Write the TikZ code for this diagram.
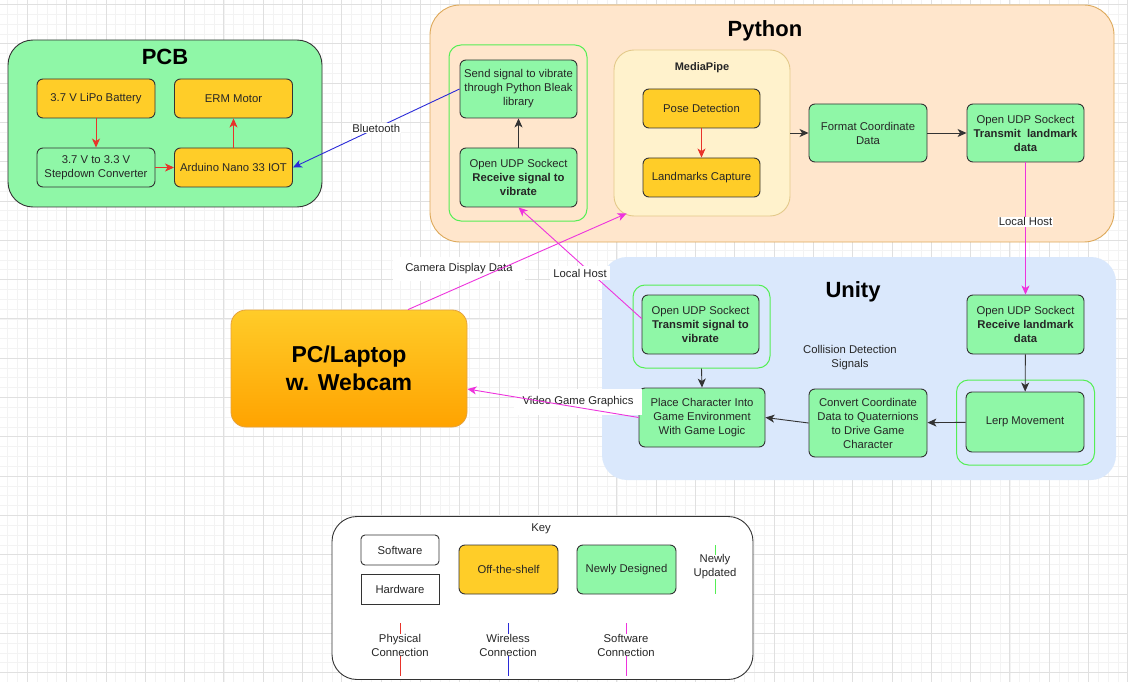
\documentclass[tikz,border=0pt]{standalone}
\usepackage{fontspec}
\setmainfont{Liberation Sans}
\usetikzlibrary{arrows.meta, calc, positioning}

\definecolor{newgreen}{HTML}{8FF7A7}
\definecolor{offshelf}{HTML}{FFCD28}
\definecolor{peach}{HTML}{FFE6CC}
\definecolor{peachline}{HTML}{DDA95A}
\definecolor{pipefill}{HTML}{FFF2CC}
\definecolor{pipeline}{HTML}{E3C98A}
\definecolor{unityblue}{HTML}{DAE8FC}
\definecolor{updgreen}{HTML}{55EE55}
\definecolor{boxline}{HTML}{333333}
\definecolor{physred}{HTML}{E8332A}
\definecolor{wlblue}{HTML}{2A2AD8}
\definecolor{softpink}{HTML}{EE33DD}
\definecolor{gridminor}{HTML}{F3F3F3}
\definecolor{gridmajor}{HTML}{E0E0E0}
\definecolor{pctop}{HTML}{FFCC29}
\definecolor{pcbot}{HTML}{FFA300}
\definecolor{pcline}{HTML}{E6A23C}

\begin{document}
\begin{tikzpicture}[
    x=1pt, y=-1pt,
    >={Stealth[length=9pt,width=8pt,inset=2.5pt]},
    txt/.style={font=\fontsize{11.3}{14}\selectfont, align=center, text=black!85},
    block/.style={txt, draw=boxline, line width=0.9pt, rounded corners=6pt, inner sep=2pt},
    newbox/.style={block, fill=newgreen, minimum width=118pt, minimum height=59pt},
    shelfbox/.style={block, fill=offshelf, minimum width=118pt, minimum height=39pt},
    group/.style={draw=updgreen, line width=1pt, rounded corners=12pt},
    container/.style={rounded corners=25pt, line width=0.9pt},
    title/.style={font=\fontsize{22}{26}\bfseries\selectfont},
    lbl/.style={txt, fill=white, inner sep=1pt},
    flow/.style={->, line width=0.9pt, draw=boxline},
    phys/.style={->, line width=0.9pt, draw=physred},
    wless/.style={->, line width=0.9pt, draw=wlblue},
    soft/.style={->, line width=0.9pt, draw=softpink}
]
\useasboundingbox (0,0) rectangle (1128,682);

% background grid
\begin{scope}
\clip (0,0) rectangle (1128,682);
\fill[white] (0,0) rectangle (1128,682);
\foreach \i in {0,...,116} \draw[gridminor, line width=0.6pt] ({-12+\i*9.825},0) -- ++(0,682);
\foreach \i in {0,...,70} \draw[gridminor, line width=0.6pt] (0,{-5.4+\i*9.825}) -- ++(1128,0);
\foreach \i in {0,...,29} \draw[gridmajor, line width=0.7pt] ({-12+\i*39.3},0) -- ++(0,682);
\foreach \i in {0,...,17} \draw[gridmajor, line width=0.7pt] (0,{4.4+\i*39.3}) -- ++(1128,0);
\end{scope}

% PCB
\node[container, fill=newgreen, draw=boxline, minimum width=314pt, minimum height=167pt] (pcb) at (165,123.5) {};
\node[title] (pcbtitle) at (165,57) {PCB};
\node[shelfbox] (bat) at (96,98.5) {3.7 V LiPo Battery};
\node[shelfbox] (erm) at (233.5,98.5) {ERM Motor};
\node[newbox, minimum height=39pt] (step) at (96,167.5) {3.7 V to 3.3 V\\Stepdown Converter};
\node[shelfbox] (ard) at (233.5,167.5) {Arduino Nano 33 IOT};

% Python
\node[container, rounded corners=30pt, fill=peach, draw=peachline, minimum width=684pt, minimum height=237pt] (py) at (772,123.5) {};
\node[title] (pytitle) at (765,31) {Python};
\node[group, minimum width=138pt, minimum height=176pt] (bgrp) at (518,133) {};
\node[newbox, minimum width=117pt, minimum height=58pt] (bleak) at (518.5,89) {Send signal to vibrate\\through Python Bleak\\library};
\node[newbox, minimum width=117pt] (recv) at (518.5,177.5) {Open UDP Sockect\\\textbf{Receive signal to}\\\textbf{vibrate}};
\node[container, rounded corners=20pt, fill=pipefill, draw=pipeline, minimum width=176pt, minimum height=166pt] (mp) at (702,133) {};
\node[txt, font=\fontsize{11}{13}\bfseries\selectfont] (mptitle) at (702,68) {MediaPipe};
\node[shelfbox, minimum width=117pt] (pose) at (701.5,108.5) {Pose Detection};
\node[shelfbox, minimum width=117pt] (lmk) at (701.5,177.5) {Landmarks Capture};
\node[newbox, minimum height=58pt] (fmt) at (868,133) {Format Coordinate\\Data};
\node[newbox, minimum width=117pt, minimum height=58pt] (txl) at (1025.5,133) {Open UDP Sockect\\\textbf{Transmit\ \ landmark}\\\textbf{data}};

% Unity
\node[container, fill=unityblue, minimum width=514pt, minimum height=223pt] (unity) at (859,368.5) {};
\node[title] (unitytitle) at (853,292) {Unity};
\node[group, minimum width=137pt, minimum height=83pt] (tgrp) at (701.5,326.5) {};
\node[newbox, minimum width=117pt] (tsg) at (700.5,324.5) {Open UDP Sockect\\\textbf{Transmit signal to}\\\textbf{vibrate}};
\node[newbox, minimum width=117pt] (rxl) at (1025.5,324.5) {Open UDP Sockect\\\textbf{Receive landmark}\\\textbf{data}};
\node[txt] (coll) at (850,358) {Collision Detection\\Signals};
\node[group, minimum width=138pt, minimum height=85pt] (lgrp) at (1025.5,422.5) {};
\node[newbox, minimum height=60pt] (lerp) at (1025,422) {Lerp Movement};
\node[newbox, minimum height=68pt] (conv) at (868,423) {Convert Coordinate\\Data to Quaternions\\to Drive Game\\Character};
\node[newbox, minimum width=126pt] (place) at (702,417.5) {Place Character Into\\Game Environment\\With Game Logic};

% PC
\node[rounded corners=15pt, draw=pcline, line width=0.8pt, top color=pctop, bottom color=pcbot,
      minimum width=236pt, minimum height=117pt, align=center,
      font=\fontsize{23}{28}\bfseries\selectfont] (pc) at (349,368.5) {PC/Laptop\\w. Webcam};

% labels under the lines
\node[lbl, inner xsep=12pt, inner ysep=7pt] (camlbl) at (459,269) {Camera Display Data};
\node[lbl, inner xsep=9pt, inner ysep=8pt] (vidlbl) at (578,402) {Video Game Graphics};

% connections
\draw[phys] (bat) -- (step);
\draw[phys] (step) -- (ard);
\draw[phys] (ard) -- (erm);
\draw[wless] (bleak.west) -- node[lbl] {Bluetooth} (ard.east);
\draw[flow] (recv) -- (bleak);
\draw[phys] (pose) -- (lmk);
\draw[flow] (mp.east) -- (fmt.west);
\draw[flow] (fmt) -- (txl);
\draw[soft] (txl.south) -- node[lbl, pos=0.45] {Local Host} (rxl.north);
\draw[flow] (rxl) -- (lerp);
\draw[flow] (lerp) -- (conv);
\draw[flow] (conv.west) -- (place.east);
\draw[flow] (tgrp.south) -- (place.north);
\draw[soft] ([yshift=6pt]tsg.west) -- node[lbl, inner sep=3pt, yshift=-10pt] {Local Host} (recv.south);
\draw[soft] ([xshift=59pt]pc.north) -- ([xshift=13pt,yshift=3pt]mp.south west);
\draw[soft] (place.west) -- ([yshift=-20.5pt]pc.east);

% Key
\node[container, fill=white, draw=boxline, minimum width=421pt, minimum height=163pt] (key) at (542.5,598) {};
\node[txt] (keytitle) at (541,529) {Key};
\node[block, fill=white, rounded corners=4pt, minimum width=78pt, minimum height=30pt] (ksw) at (400,550) {Software};
\node[block, fill=white, rounded corners=0pt, minimum width=78pt, minimum height=30pt] (khw) at (400,589) {Hardware};
\node[block, fill=offshelf, minimum width=99pt, minimum height=49pt] (kshelf) at (508.5,569.5) {Off-the-shelf};
\node[block, fill=newgreen, minimum width=99pt, minimum height=49pt] (knew) at (626.5,569.5) {Newly Designed};
\draw[updgreen, line width=1pt] (715,545) -- (715,594);
\node[lbl, inner sep=0pt] (kupd) at (715,567) {Newly\\Updated};
\draw[physred, line width=0.9pt] (400,623) -- (400,676);
\node[lbl, inner sep=0pt] (kphys) at (400,645) {Physical\\Connection};
\draw[wlblue, line width=0.9pt] (508,623) -- (508,676);
\node[lbl, inner sep=0pt] (kwl) at (508,645) {Wireless\\Connection};
\draw[softpink, line width=0.9pt] (626,623) -- (626,676);
\node[lbl, inner sep=0pt] (ksoft) at (626,645) {Software\\Connection};
\end{tikzpicture}
\end{document}
